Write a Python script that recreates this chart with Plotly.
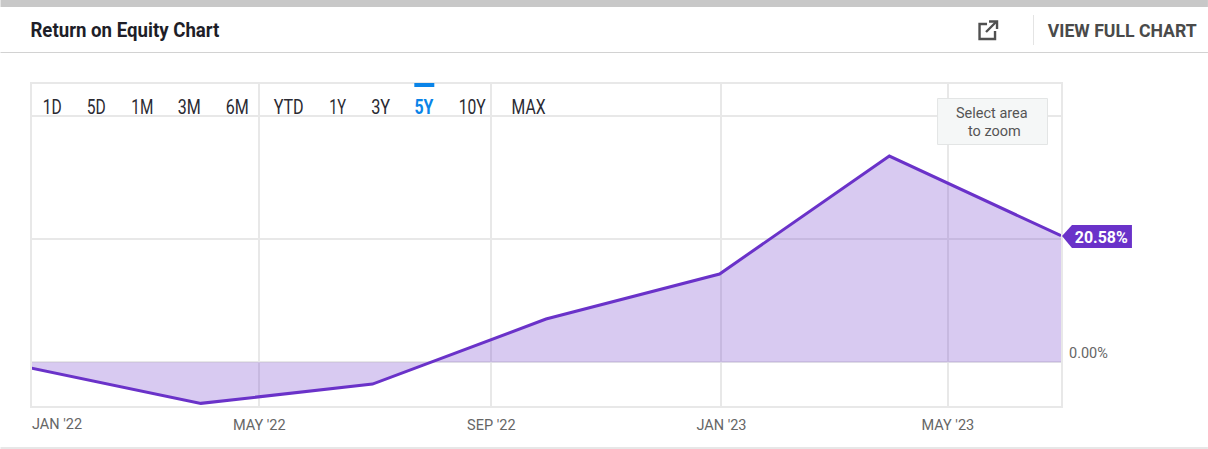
import json
import plotly.graph_objects as go

dates = ["2021-12-31", "2022-03-31", "2022-06-30", "2022-09-30", "2022-12-31", "2023-03-31", "2023-06-30"]
roe = [-0.93, -6.67, -3.53, 7.04, 14.36, 33.54, 20.58]
tick_dates = ["2022-05-01", "2022-09-01", "2023-01-01", "2023-05-01"]
tick_labels = ["MAY '22", "SEP '22", "JAN '23", "MAY '23"]
range_labels = ["1D", "5D", "1M", "3M", "6M", "YTD", "1Y", "3Y", "5Y", "10Y", "MAX"]
range_centers = [51.5, 96, 142, 189.5, 237, 288, 337.5, 380.5, 424, 472.5, 529]
range_widths = [19, 19, 22, 23, 23, 30, 17, 19, 19, 27, 34]

W, H = 1208, 449
L, R, T, B = 31.5, 1061, 84, 406
ROBOTO = "Roboto, sans-serif"
PURPLE = "#6a32c9"
GRID = "#e8e8e8"

def px(x):
    return (x - L) / (R - L)

def py(y):
    return (B - y) / (B - T)

fig = go.Figure()
fig.add_trace(go.Scatter(x=dates, y=roe, mode="lines", fill="tozeroy",
                         line=dict(color=PURPLE, width=3),
                         fillcolor="rgba(106,50,201,0.26)", hoverinfo="skip"))

shapes = []
def rect(x0, y0, x1, y1, fill, line=None):
    shapes.append(dict(type="rect", xref="paper", yref="paper", x0=px(x0), x1=px(x1), y0=py(y0), y1=py(y1),
                       fillcolor=fill, line=dict(color=line or fill, width=1 if line else 0), layer="above"))
def hline(x0, x1, y, color, width=1):
    shapes.append(dict(type="line", xref="paper", yref="paper", x0=px(x0), x1=px(x1), y0=py(y), y1=py(y),
                       line=dict(color=color, width=width), layer="above"))

rect(0, 0, W, 7, "#c8c8c8")
hline(0, W, 52.5, "#d2d2d2", 1)
hline(0, W, 448, "#cfcfcf", 1)
shapes.append(dict(type="line", xref="paper", yref="paper", x0=px(1033.5), x1=px(1033.5), y0=py(15), y1=py(45),
                   line=dict(color="#e4e4e4", width=1)))
rect(414, 83, 434, 87, "#0a84e8")
rect(937.5, 98.5, 1047.5, 144.5, "#f5f7f7", "#e3e5e5")

# external link icon
def path(points):
    return "M " + " L ".join(f"{px(a)},{py(b)}" for a, b in points)
icon = "#505050"
shapes.append(dict(type="path", xref="paper", yref="paper", layer="above", line=dict(color=icon, width=2.4),
                   path=path([(987, 24), (979.5, 24), (979.5, 39), (995, 39), (995, 31)])))
shapes.append(dict(type="path", xref="paper", yref="paper", layer="above", line=dict(color=icon, width=2.4),
                   path=path([(986, 32), (996, 22)])))
shapes.append(dict(type="path", xref="paper", yref="paper", layer="above", line=dict(color=icon, width=2.4),
                   path=path([(989, 21.5), (997, 21.5), (997, 29)])))
# last value tag
shapes.append(dict(type="path", xref="paper", yref="paper", layer="above", line=dict(width=0), fillcolor=PURPLE,
                   path=path([(1062, 236), (1072, 225), (1132, 225), (1132, 248), (1072, 248)]) + " Z"))

ann = []
fit = {}
def text(x, y, s, size=14, color="#555555", anchor="center", width=None):
    ann.append(dict(xref="paper", yref="paper", x=px(x), y=py(y), text=s, showarrow=False, xanchor=anchor,
                    yanchor="middle", font=dict(size=size, color=color, family=ROBOTO)))
    if width:
        fit[s.replace("<b>", "").replace("</b>", "")] = width

text(124.5, 30, "<b>Return on Equity Chart</b>", 20.5, "#1e1e28", "center", 189)
text(1122.5, 30, "<b>VIEW FULL CHART</b>", 19, "#4a4a4a", "center", 149)
for lab, c, w in zip(range_labels, range_centers, range_widths):
    sel = lab == "5Y"
    text(c, 106.5, f"<b>{lab}</b>" if sel else lab, 20, "#0a84e8" if sel else "#2a2a32", "center", w)
text(992, 113.5, "Select area", 14.5, "#555555")
text(994, 131.5, "to zoom", 14.5, "#555555")
text(1101.5, 237, f"<b>{roe[-1]:.2f}%</b>", 17, "#ffffff", "center", 53)
text(1067, 353.5, "0.00%", 14.5, "#666666", "left")
text(29, 424, "JAN '22", 14.5, "#666666", "left")

fig.update_layout(
    width=W, height=H, autosize=False, showlegend=False,
    margin=dict(l=L, r=W - R, t=T, b=H - B),
    paper_bgcolor="white", plot_bgcolor="white",
    shapes=shapes, annotations=ann,
    xaxis=dict(type="date", range=["2021-12-31 12:00", "2023-06-30"], tickvals=tick_dates, ticktext=tick_labels,
               showgrid=True, gridcolor=GRID, gridwidth=1.5, showline=True, linecolor=GRID, linewidth=2, mirror=True,
               ticks="", zeroline=False, tickfont=dict(family=ROBOTO, size=14.5, color="#666666"), tickangle=0,
               ticklabelstandoff=5),
    yaxis=dict(range=[-7.1, 45.25], tickvals=[0, 20, 40], showticklabels=False, showgrid=True, gridcolor=GRID,
               gridwidth=1.5, showline=True, linecolor=GRID, linewidth=2, mirror=True, ticks="", zeroline=False),
)
post = ("document.body.style.margin='0';document.body.style.overflow='hidden';"
        "var FIT=" + json.dumps(fit) + ";"
        "document.querySelectorAll('.annotation-text').forEach(function(t){"
        "var w=FIT[t.textContent];if(w){t.setAttribute('textLength',w);t.setAttribute('lengthAdjust','spacingAndGlyphs');}});")
fig.write_html("out.html", post_script=post, config=dict(displayModeBar=False))
